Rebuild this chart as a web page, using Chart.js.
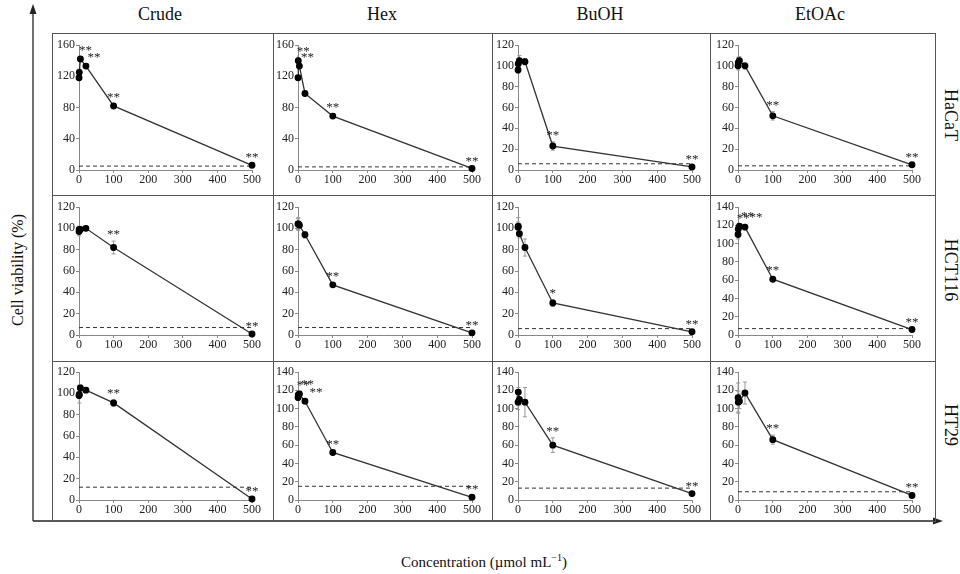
<!DOCTYPE html>
<html>
<head>
<meta charset="utf-8">
<script src="https://cdn.jsdelivr.net/npm/chart.js@4.4.0/dist/chart.umd.min.js"></script>
<style>
  body { margin: 0; background: #fff; }
  #fig { position: relative; width: 960px; height: 574px; font-family: 'Liberation Serif', serif; color: #111; overflow: hidden; }
  .box { position: absolute; border: 1px solid #555; box-sizing: border-box; }
  .panel { position: absolute; }
  .col-title { position: absolute; top: 4px; font-size: 18px; transform: translateX(-50%); white-space: nowrap; }
  .row-title { position: absolute; left: 940px; font-size: 18px; writing-mode: vertical-rl; transform: translateY(-50%); white-space: nowrap; }
  #ytitle { position: absolute; left: 18px; top: 270px; font-size: 16px; transform: translate(-50%, -50%) rotate(-90deg); white-space: nowrap; }
  #xtitle { position: absolute; left: 484px; top: 552px; font-size: 15px; transform: translateX(-50%); white-space: nowrap; }
  #arrows { position: absolute; left: 0; top: 0; }
</style>
</head>
<body>
<div id="fig">
  <svg id="arrows" width="960" height="574">
    <line x1="33" y1="521" x2="33" y2="12" stroke="#222" stroke-width="1.3"/>
    <polygon points="33,4 29.5,14 36.5,14" fill="#222"/>
    <line x1="33" y1="521" x2="934" y2="521" stroke="#222" stroke-width="1.3"/>
    <polygon points="943,521 933,517.5 933,524.5" fill="#222"/>
  </svg>
  <div id="ytitle">Cell viability (%)</div>
  <div id="xtitle">Concentration (µmol mL<sup style="font-size:10px">−1</sup>)</div>
</div>
<script>
// Concentrations tested (µmol/mL) — 5-fold dilutions
const conc = [0.16, 0.8, 4, 20, 100, 500];
const extracts = ['Crude', 'Hex', 'BuOH', 'EtOAc'];
const cellLines = ['HaCaT', 'HCT116', 'HT29'];

// Mean cell viability (%)
const crudeHaCaT  = [118, 125, 142, 133, 82, 6];
const hexHaCaT    = [118, 140, 133, 98, 69, 2];
const buohHaCaT   = [96, 102, 105, 104, 23, 3];
const etoacHaCaT  = [100, 103, 105, 100, 52, 5];
const crudeHCT116 = [97, 99, 99, 100, 82, 1];
const hexHCT116   = [104, 104, 103, 94, 47, 2];
const buohHCT116  = [101, 102, 95, 82, 30, 3];
const etoacHCT116 = [110, 116, 119, 118, 61, 6];
const crudeHT29   = [98, 99, 105, 103, 91, 1];
const hexHT29     = [112, 115, 116, 108, 52, 3];
const buohHT29    = [107, 118, 110, 107, 60, 7];
const etoacHT29   = [112, 107, 108, 117, 66, 5];

// Standard deviations
const crudeHaCaTErr  = [3, 4, 3, 2, 2, 1];
const hexHaCaTErr    = [2, 3, 3, 2, 2, 1];
const buohHaCaTErr   = [3, 4, 5, 3, 4, 1];
const etoacHaCaTErr  = [4, 5, 4, 3, 4, 1];
const crudeHCT116Err = [4, 3, 2, 2, 6, 1];
const hexHCT116Err   = [5, 6, 3, 3, 2, 1];
const buohHCT116Err  = [5, 8, 4, 8, 3, 1];
const etoacHCT116Err = [5, 4, 3, 3, 2, 1];
const crudeHT29Err   = [3, 8, 3, 2, 3, 1];
const hexHT29Err     = [3, 3, 3, 2, 2, 1];
const buohHT29Err    = [8, 5, 6, 16, 8, 1];
const etoacHT29Err   = [16, 12, 8, 12, 5, 1];

// Significance marks
const crudeHaCaTSig  = ['', '', '**', '**', '**', '**'];
const hexHaCaTSig    = ['', '**', '**', '', '**', '**'];
const buohHaCaTSig   = ['', '', '', '', '**', '**'];
const etoacHaCaTSig  = ['', '', '', '', '**', '**'];
const crudeHCT116Sig = ['', '', '', '', '**', '**'];
const hexHCT116Sig   = ['', '', '', '', '**', '**'];
const buohHCT116Sig  = ['', '', '', '', '*', '**'];
const etoacHCT116Sig = ['', '**', '**', '**', '**', '**'];
const crudeHT29Sig   = ['', '', '', '', '**', '**'];
const hexHT29Sig     = ['', '**', '**', '**', '**', '**'];
const buohHT29Sig    = ['', '', '', '', '**', '**'];
const etoacHT29Sig   = ['', '', '', '', '**', '**'];

// Dashed reference level and y-axis maximum per panel
const dashedHaCaT  = [5, 4, 6, 4];
const dashedHCT116 = [7, 7, 6, 7];
const dashedHT29   = [12, 15, 13, 9];
const yMaxHaCaT  = [160, 160, 120, 120];
const yMaxHCT116 = [120, 120, 120, 140];
const yMaxHT29   = [120, 140, 140, 140];

const viability = [
  [crudeHaCaT, hexHaCaT, buohHaCaT, etoacHaCaT],
  [crudeHCT116, hexHCT116, buohHCT116, etoacHCT116],
  [crudeHT29, hexHT29, buohHT29, etoacHT29],
];
const errors = [
  [crudeHaCaTErr, hexHaCaTErr, buohHaCaTErr, etoacHaCaTErr],
  [crudeHCT116Err, hexHCT116Err, buohHCT116Err, etoacHCT116Err],
  [crudeHT29Err, hexHT29Err, buohHT29Err, etoacHT29Err],
];
const signif = [
  [crudeHaCaTSig, hexHaCaTSig, buohHaCaTSig, etoacHaCaTSig],
  [crudeHCT116Sig, hexHCT116Sig, buohHCT116Sig, etoacHCT116Sig],
  [crudeHT29Sig, hexHT29Sig, buohHT29Sig, etoacHT29Sig],
];
const dashed = [dashedHaCaT, dashedHCT116, dashedHT29];
const yMax = [yMaxHaCaT, yMaxHCT116, yMaxHT29];

// Layout (pixels)
const plotLeft = [79, 298, 518, 738];
const plotRight = [252, 472, 692, 912];
const plotTop = [45, 207, 372];
const plotBottom = [170, 335, 500];
const boxLeft = [52, 273, 492, 710];
const boxRight = [273, 492, 710, 935];
const boxTop = [33, 195, 361];
const boxBottom = [195, 361, 521];
const titleX = [160, 382, 600, 820];
const rowTitleY = [115, 270, 425];

const padL = 28, padT = 12, padR = 18, padB = 20;
const fig = document.getElementById('fig');
const tickFont = { family: "'Liberation Serif', serif", size: 12 };

// Error bars drawn under the points
const errorBars = {
  id: 'errorBars',
  beforeDatasetsDraw(chart) {
    const ds = chart.data.datasets[0];
    const meta = chart.getDatasetMeta(0);
    const y = chart.scales.y;
    const ctx = chart.ctx;
    ctx.save();
    ctx.strokeStyle = '#999';
    ctx.lineWidth = 1;
    meta.data.forEach((pt, i) => {
      const e = ds.errors[i];
      if (!e) return;
      const v = ds.data[i].y;
      const top = y.getPixelForValue(v + e), bot = y.getPixelForValue(v - e);
      ctx.beginPath();
      ctx.moveTo(pt.x, top); ctx.lineTo(pt.x, bot);
      ctx.moveTo(pt.x - 2, top); ctx.lineTo(pt.x + 2, top);
      ctx.moveTo(pt.x - 2, bot); ctx.lineTo(pt.x + 2, bot);
      ctx.stroke();
    });
    ctx.restore();
  }
};

// Asterisks above points
const stars = {
  id: 'stars',
  afterDatasetsDraw(chart) {
    const ds = chart.data.datasets[0];
    const meta = chart.getDatasetMeta(0);
    const y = chart.scales.y;
    const ctx = chart.ctx;
    ctx.save();
    ctx.fillStyle = '#222';
    ctx.font = "13px 'Liberation Serif', serif";
    ctx.textAlign = 'center';
    ctx.textBaseline = 'bottom';
    let k = 0;
    meta.data.forEach((pt, i) => {
      const s = ds.stars[i];
      if (!s) return;
      const v = ds.data[i].y;
      const top = Math.min(pt.y, y.getPixelForValue(v + (ds.errors[i] || 0)));
      const near = ds.data[i].x < 50;
      const dx = near ? 5 + 3 * k : 0;
      if (near) k++;
      ctx.fillText(s, pt.x + dx, top);
    });
    ctx.restore();
  }
};

cellLines.forEach((cell, r) => {
  const rt = document.createElement('div');
  rt.className = 'row-title';
  rt.style.top = rowTitleY[r] + 'px';
  rt.textContent = cell;
  fig.appendChild(rt);

  extracts.forEach((ext, c) => {
    if (r === 0) {
      const t = document.createElement('div');
      t.className = 'col-title';
      t.style.left = titleX[c] + 'px';
      t.textContent = ext;
      fig.appendChild(t);
    }

    const box = document.createElement('div');
    box.className = 'box';
    box.style.left = boxLeft[c] + 'px';
    box.style.top = boxTop[r] + 'px';
    box.style.width = (boxRight[c] - boxLeft[c] + 1) + 'px';
    box.style.height = (boxBottom[r] - boxTop[r] + 1) + 'px';
    fig.appendChild(box);

    const w = plotRight[c] - plotLeft[c] + padL + padR;
    const h = plotBottom[r] - plotTop[r] + padT + padB;
    const canvas = document.createElement('canvas');
    canvas.className = 'panel';
    canvas.width = w;
    canvas.height = h;
    canvas.style.left = (plotLeft[c] - padL) + 'px';
    canvas.style.top = (plotTop[r] - padT) + 'px';
    fig.appendChild(canvas);

    const vals = viability[r][c];
    const thr = dashed[r][c];

    new Chart(canvas, {
      type: 'scatter',
      data: {
        datasets: [{
          data: conc.map((x, i) => ({ x, y: vals[i] })),
          errors: errors[r][c],
          stars: signif[r][c],
          showLine: true,
          borderColor: '#333',
          borderWidth: 1.3,
          pointRadius: 2.8,
          pointBackgroundColor: '#000',
          pointBorderColor: '#000',
          clip: false,
        }, {
          data: [{ x: 0, y: thr }, { x: 500, y: thr }],
          showLine: true,
          borderColor: '#333',
          borderWidth: 1,
          borderDash: [4, 3],
          pointRadius: 0,
          clip: false,
        }],
      },
      options: {
        animation: false,
        responsive: false,
        devicePixelRatio: 1,
        layout: { padding: { top: padT, right: padR, left: 0, bottom: 0 } },
        plugins: { legend: { display: false }, tooltip: { enabled: false } },
        scales: {
          x: {
            type: 'linear', min: 0, max: 500,
            ticks: { stepSize: 100, font: tickFont, color: '#222', padding: 0, maxRotation: 0 },
            grid: { drawOnChartArea: false, tickLength: 3, color: '#888' },
            border: { color: '#888' },
            afterFit: s => { s.height = padB; },
          },
          y: {
            min: 0, max: yMax[r][c],
            ticks: { stepSize: 20, font: tickFont, color: '#222', padding: 1 },
            grid: { drawOnChartArea: false, tickLength: 3, color: '#888' },
            border: { color: '#888' },
            afterFit: s => { s.width = padL; },
          },
        },
      },
      plugins: [errorBars, stars],
    });
  });
});
</script>
</body>
</html>
